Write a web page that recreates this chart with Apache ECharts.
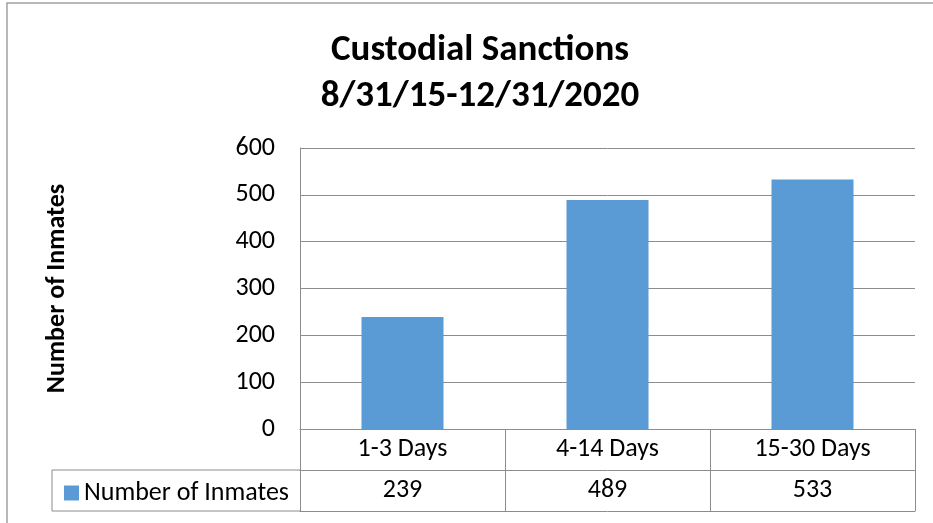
<!DOCTYPE html>
<html>
<head>
<meta charset="utf-8">
<script src="https://cdn.jsdelivr.net/npm/echarts@6/dist/echarts.min.js"></script>
<style>
  html, body { margin: 0; padding: 0; background: #fff; }
  #chart { width: 933px; height: 523px; }
</style>
</head>
<body>
<div id="chart"></div>
<script>
const categories = ['1-3 Days', '4-14 Days', '15-30 Days']
const inmates = [239, 489, 533]
const yTicks = [0, 100, 200, 300, 400, 500, 600]

const font = "Carlito, Calibri, 'Liberation Sans Narrow', 'Open Sans', sans-serif"
const lineColor = '#8c8c8c'
const barColor = '#5b9bd5'

const chart = echarts.init(document.getElementById('chart'))

chart.setOption({
  animation: false,
  textStyle: { fontFamily: font, color: '#000' },
  title: {
    text: 'Custodial Sanctions\n8/31/15-12/31/2020',
    left: 475,
    top: 23,
    textAlign: 'center',
    textStyle: {
      fontFamily: font,
      fontSize: 37,
      fontWeight: 'bold',
      lineHeight: 46,
      color: '#000',
    },
  },
  legend: {
    left: 59,
    top: 475,
    icon: 'rect',
    itemWidth: 15,
    itemHeight: 15,
    itemGap: 6,
    data: ['Number of Inmates'],
    textStyle: { fontFamily: font, fontSize: 26, color: '#000' },
  },
  grid: { left: 300, right: 18, top: 148, bottom: 94 },
  xAxis: [
    {
      type: 'category',
      data: categories,
      axisLine: { lineStyle: { color: lineColor } },
      axisTick: { show: true, length: 82, lineStyle: { color: lineColor } },
      axisLabel: {
        fontFamily: font,
        fontSize: 26,
        color: '#000',
        margin: 0,
        formatter: (v, i) => `{c|${v}}\n{v|${inmates[i]}}`,
        rich: {
          c: { fontFamily: font, fontSize: 26, lineHeight: 41, color: '#000' },
          v: { fontFamily: font, fontSize: 26, lineHeight: 41, color: '#000' },
        },
      },
    },
    {
      type: 'category',
      data: categories,
      position: 'bottom',
      offset: 41,
      axisLine: { show: true, lineStyle: { color: lineColor } },
      axisTick: { show: false },
      axisLabel: { show: false },
    },
    {
      type: 'category',
      data: categories,
      position: 'bottom',
      offset: 82,
      axisLine: { show: true, lineStyle: { color: lineColor } },
      axisTick: { show: false },
      axisLabel: { show: false },
    },
  ],
  yAxis: {
    type: 'value',
    min: yTicks[0],
    max: yTicks[yTicks.length - 1],
    interval: 100,
    name: 'Number of Inmates',
    nameLocation: 'middle',
    nameRotate: 90,
    nameGap: 230,
    nameTextStyle: { fontFamily: font, fontSize: 26, fontWeight: 'bold', color: '#000' },
    axisLine: { show: true, lineStyle: { color: lineColor } },
    axisTick: { show: false },
    axisLabel: { fontFamily: font, fontSize: 26, color: '#000', margin: 25 },
    splitLine: { lineStyle: { color: lineColor } },
  },
  series: [
    {
      name: 'Number of Inmates',
      type: 'bar',
      data: inmates,
      barWidth: '40%',
      itemStyle: { color: barColor },
    },
  ],
  graphic: [
    {
      type: 'rect',
      shape: { x: 7, y: 3, width: 940, height: 540 },
      style: { fill: 'none', stroke: '#a0a0a0', lineWidth: 1.5 },
      silent: true,
    },
    {
      type: 'polyline',
      shape: { points: [[300, 470], [52, 470], [52, 511], [300, 511]] },
      style: { fill: 'none', stroke: lineColor, lineWidth: 1 },
      silent: true,
    },
  ],
})
</script>
</body>
</html>
